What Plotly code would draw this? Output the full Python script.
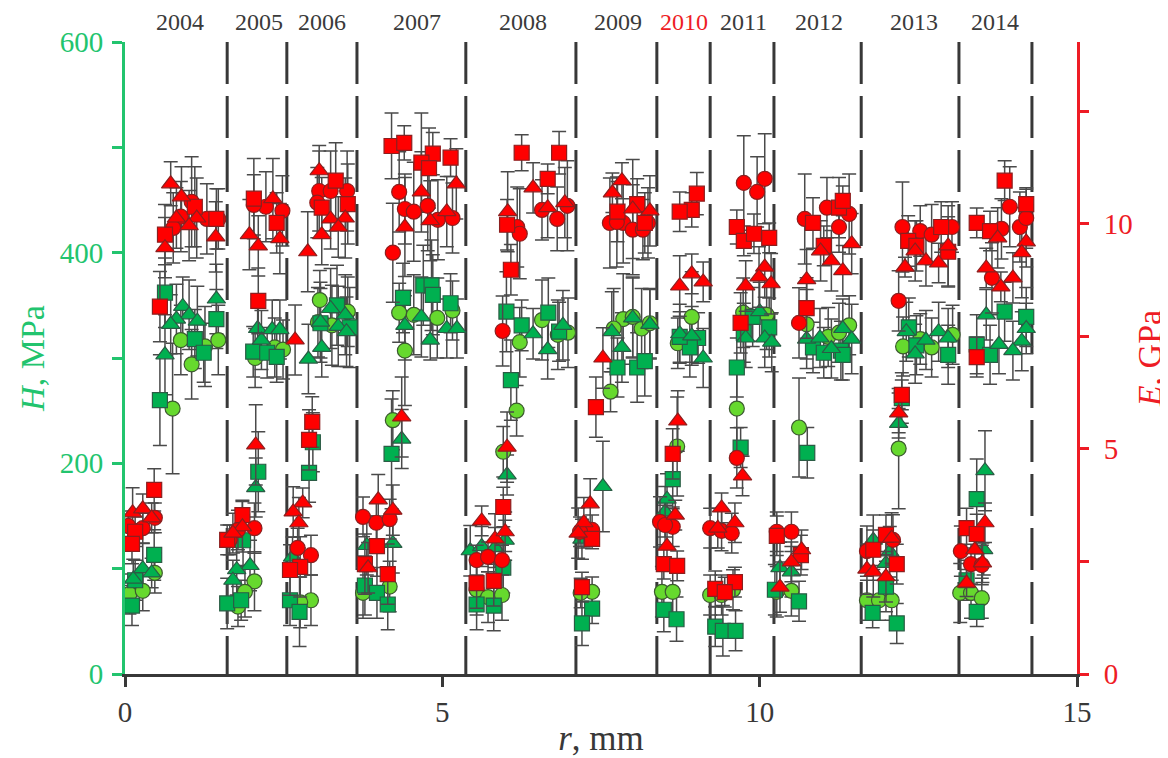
import plotly.graph_objects as go

years = ["2004","2005","2006","2007","2008","2009","2010","2011","2012","2013","2014"]
year_r = [0.87,2.11,3.10,4.60,6.27,7.77,8.81,9.75,10.93,12.43,13.71]
boundaries = [1.61,2.55,3.655,5.37,7.105,8.38,9.22,10.225,11.6,13.14,14.29]

E_sq_r = [1.10,1.44,.63,.55,.46,.16,.11, 2.03,2.39,2.10,1.85,1.61, 3.32,3.51,3.10,2.95,2.90,2.76,2.60,
          4.20,4.40,4.85,5.13,4.67,4.79,3.97,3.78,4.14, 6.25,6.84,6.66,6.02,6.08,5.96,5.54,5.81,
          8.07,7.76,8.19,7.42,7.36,7.20, 9.01,8.93,8.74,8.63,8.49,8.70, 9.64,9.75,9.91,10.15,9.70,9.61,9.30,9.45,
          10.84,11.25,11.31,11.01,10.74,10.27,10.65, 12.86,12.34,12.47,12.97,12.24,11.99,11.79,12.16,
          13.86,14.20,13.42,13.63,13.42,13.26,13.42]
E_sq = [10.38,10.11,9.76,8.16,4.09,3.16,2.89, 10.56,10.02,8.29,3.53,2.98, 10.96,10.44,10.36,5.60,5.20,2.38,2.31,
        11.73,11.80,11.56,11.47,11.36,11.24,2.84,2.44,2.22, 11.58,11.58,11.0,9.98,8.98,3.71,2.02,2.07,
        10.44,10.27,10.02,5.93,3.0,1.93, 10.67,10.31,10.27,4.89,2.44,2.40, 9.93,9.62,9.78,9.69,7.80,2.04,1.89,1.82,
        10.02,10.36,10.51,9.51,8.13,3.07,2.64, 9.93,9.62,9.51,9.38,6.2,3.09,2.76,2.44,
        10.96,10.44,10.02,9.84,7.04,3.24,3.11]
E_sq_err = [.89,.67,.67,.78,.47,.33,.44, .89,.67,.73,.33,.33, .84,.89,.67,.56,.67,.67,.56,
            .73,.38,.47,.42,1.1,.89,.67,.67,.67, .4,.47,.33,.56,.56,.44,.56,.56,
            .56,.67,.67,.67,.22,.33, .47,.38,.44,.56,.33,.33, .38,.33,.44,.33,.67,.33,.4,.33,
            .56,.67,.33,.44,.67,.44,.44, .56,.56,.56,.78,.33,.44,.44,.44,
            .44,.33,.33,.44,.44,.44,.44]

E_ci_r = [1.05,.88,.76,1.29,1.47,.05,.47,.28, 2.48,2.22,2.03,2.04,1.78,1.65, 3.06,3.24,3.50,3.03,2.72,2.93,
          4.32,4.41,4.55,4.77,4.93,5.16,4.22,3.75,3.96,4.17, 6.57,6.97,6.81,6.18,6.22,5.95,5.54,5.72,5.94,
          7.64,7.85,8.0,8.24,8.16,7.75,7.36,7.17, 8.43,8.63,8.51, 9.75,10.08,9.96,9.64,9.22,9.40,9.56,
          11.06,11.41,11.25,10.71,10.62,10.27,10.5, 12.25,12.53,12.71,13.03,12.19,12.10,11.69,
          13.94,13.81,14.10,14.2,13.66,13.17,13.33,13.5]
E_ci = [10.49,10.16,9.91,10.11,10.11,3.29,3.47,3.24, 10.29,10.38,10.42,3.24,3.2,2.98, 10.73,10.73,10.73,10.47,2.8,2.64,
        10.71,10.33,10.27,10.4,10.09,10.13,9.36,3.49,3.36,3.44, 10.31,10.4,10.11,9.93,9.78,7.62,2.53,2.6,2.53,
        10.02,10.02,9.87,10.02,9.87,10.04,3.2,3.16, 3.38,3.27,3.31, 10.91,11.0,10.71,4.8,3.24,3.18,3.13,
        10.36,10.22,9.93,10.11,7.8,3.16,3.16, 9.93,9.84,9.76,9.93,8.29,2.98,2.73,
        10.38,9.89,9.93,10.13,8.8,2.73,2.44,2.42]
E_ci_err = [1.0,.78,.78,.78,.67,.33,.33,.33, .78,.78,.67,.56,.44,.33, .89,.89,.89,.78,.44,.44,
            .89,.78,1.1,1.0,.89,.78,1.1,.44,.44,.44, .67,1.0,.71,.89,1.0,.78,.33,.33,.33,
            1.0,.89,1.0,.78,.67,1.0,.33,.33, .56,.44,.44, 1.05,1.0,.78,.67,.44,.44,.44,
            .67,.89,.56,1.0,.78,.44,.44, 1.0,.56,.67,.56,.67,.56,.56,
            .89,.67,.78,.67,.78,.56,.44,.44]

E_tr_r = [.72,.89,.81,1.13,1.01,1.43,.63,.12,.28,.42, 2.33,1.96,2.10,2.44,2.06,1.85,1.70,
          3.06,3.24,3.47,3.36,3.10,2.88,2.68,2.80,2.65,2.74, 5.22,4.67,5.07,4.81,4.41,4.36,3.99,4.22,3.83,
          6.43,6.03,6.66,6.93,6.02,5.62,5.83,5.99, 7.83,7.68,8.0,8.27,7.53,7.33,7.23,7.14,
          8.93,8.74,9.11,8.71,8.67,8.54, 10.08,9.99,9.78,10.18,9.73,9.40,9.61,9.34,
          10.96,11.13,11.45,11.31,10.74,10.66,10.5,10.32, 12.45,12.97,12.62,12.82,12.29,12.19,12.08,11.69,11.79,11.99,
          13.75,14.2,14.13,13.57,13.99,13.8,13.55,13.39,13.51,13.26]
E_tr = [10.89,10.6,10.13,10.13,9.96,9.71,9.47,3.58,3.67,3.47, 10.56,9.76,9.51,9.67,5.09,3.27,3.13,
        11.18,10.11,10.13,9.93,9.76,9.38,7.42,3.8,3.6,3.36, 10.89,10.71,10.27,10.07,9.93,5.71,3.87,3.64,2.36,
        10.8,10.27,10.36,10.47,5.04,3.4,3.0,3.16, 10.96,10.69,10.33,10.29,7.02,3.78,3.36,3.13,
        8.89,8.62,8.71,5.62,3.53,2.84, 9.04,8.82,8.62,8.67,4.4,3.69,3.36,3.24,
        9.4,9.18,9.56,8.96,8.76,2.76,2.49,1.93, 9.4,9.51,9.18,9.13,9.04,5.8,3.02,2.33,2.27,2.16,
        9.69,9.6,9.36,9.02,8.8,8.6,3.36,2.76,2.47,2.02]
E_tr_err = [.49,.67,.67,.89,.78,.78,.67,.56,.33,.33, .89,.78,.67,.78,.89,.56,.44,
            .56,.67,.89,.67,.67,.89,.78,.33,.56,.56, .78,.89,.78,.89,1.1,.89,.56,.56,.56,
            .56,.89,.67,.78,.78,.33,.56,.44, .4,.44,1.1,.78,.67,.56,.56,.56,
            .44,.67,.44,.67,.33,.33, .67,.67,.56,.67,.44,.33,.44,.44,
            .67,.67,.67,.56,.67,.44,.44,.56, .67,.89,.56,.44,.22,.44,.56,.56,.56,.56,
            .67,.56,1.0,.44,.56,.33,.44,.44,.44,.3]

H_sq_r = [.63,1.44,1.10,1.24,.55,.46,.11,.16, 2.02,2.24,2.39,2.10,1.86,1.61,1.83, 3.34,3.08,3.54,2.96,2.90,2.60,2.75,
          4.38,4.70,4.83,4.85,5.13,4.20,3.78,3.97,4.14, 6.01,6.25,6.67,6.84,6.08,5.96,5.54,5.81, 7.76,8.07,8.19,7.36,7.20,
          9.03,8.90,8.74,8.63,8.49,8.69, 9.89,10.15,9.75,9.64,9.70,9.30,9.42,9.62, 10.84,11.01,11.28,11.31,10.75,10.24,10.62,
          12.35,12.97,12.47,12.24,11.99,11.78,12.16, 13.86,14.2,13.42,13.63,13.42,13.26,13.42]
H_sq = [362,337,318,305,260,113,65,89, 306,305,301,192,127,67,70, 350,333,329,220,191,70,59,
        357,369,369,360,352,209,84,77,66, 344,331,343,325,279,101,66,65, 291,291,297,62,48,
        319,310,320,185,61,52, 339,329,324,291,215,45,41,41, 310,305,307,303,210,80,69,
        329,303,312,262,83,58,48, 344,339,313,303,166,89,59]
H_sq_err = [33,28,28,28,43,24,19,19, 24,24,24,38,24,24,19, 38,33,38,28,28,24,33,
            33,38,43,38,28,52,28,24,24, 38,24,33,28,38,24,24,24, 28,33,33,14,21,
            24,28,24,28,21,21, 28,28,28,28,19,19,24,19, 24,24,28,24,24,24,19,
            28,28,28,24,24,14,19, 28,28,28,28,38,19,14]

H_ci_r = [.88,1.26,1.47,1.05,.75,.07,.28,.47, 2.05,2.36,2.49,2.04,1.89,1.78, 3.07,3.04,3.51,3.26,2.93,2.76,
          4.32,4.55,4.92,5.16,4.41,4.22,3.75,4.17, 6.57,6.22,6.82,6.98,6.17,5.96,5.54,5.72,5.94,
          7.85,7.70,8.14,8.27,8.0,7.65,7.36,7.18, 8.93,8.71,8.70,8.46,8.63, 9.74,10.11,9.64,9.22,9.40,9.58,
          11.08,11.25,11.41,10.74,10.62,10.27,10.5, 12.26,12.53,12.71,13.04,12.19,11.69,11.88,12.08, 13.16,13.33,13.5]
H_ci = [317,311,317,294,252,76,79,96, 300,310,308,88,78,64, 355,334,344,331,70,68,
        343,341,338,345,307,241,77,83, 336,315,322,324,250,211,80,73,75,
        337,328,328,333,339,268,78,77, 339,314,216,78,78, 343,341,252,75,75,80,
        320,324,331,332,234,78,79, 311,318,310,322,214,70,70,70, 77,77,72]
H_ci_err = [33,38,33,33,62,19,19,19, 28,28,28,28,24,19, 28,33,33,38,24,24,
            28,38,38,28,52,28,24,24, 38,33,33,33,24,24,24,24,24,
            43,38,38,33,38,19,14,14, 43,24,47,24,24, 33,33,43,19,19,19,
            28,28,28,33,47,24,24, 28,24,28,28,57,19,19,19, 28,24,19]

H_tr_r = [.91,1.44,1.01,.81,.72,1.14,.63,.13,.28,.42, 2.09,2.32,2.44,2.15,2.06,1.97,1.76,1.70,
          3.24,3.47,3.08,3.36,3.49,3.10,2.89,2.64, 4.67,4.41,5.07,5.23,4.81,4.36,3.81,4.22,
          6.43,6.66,6.90,6.02,5.44,5.62,5.83,5.99, 8.0,7.67,8.27,7.83,7.53,7.2, 8.74,8.93,9.11,8.54,8.51,
          10.0,9.78,10.08,10.19, 10.74,10.95,11.13,11.31,11.45,10.32,10.5,
          12.31,12.82,12.62,12.97,12.45,12.19,11.79,12.05,11.99, 13.57,14.2,14.13,13.77,13.99,13.55,13.53]
H_tr = [349,356,341,337,332,335,303,90,100,96, 328,327,327,317,177,103,99,89,
        347,341,334,330,325,310,299,111, 339,331,328,328,317,223,122,124,
        323,308,331,189,117,121,120,127, 338,325,332,310,178,128, 323,321,300,166,154,
        344,319,319,315, 318,319,309,328,318,101,97,
        325,325,317,319,304,238,127,116,105, 341,328,316,313,307,193,118]
H_tr_err = [28,33,33,33,28,33,38,19,24,14, 28,28,28,28,28,24,24,19,
            38,38,38,38,33,28,33,19, 38,33,28,28,19,28,28,28,
            24,28,33,19,24,19,19,19, 38,38,33,33,43,19, 28,28,28,24,24,
            28,28,28,28, 28,28,28,28,33,24,24,
            28,28,28,28,28,14,24,24,24, 24,24,28,28,28,38,24]

GREEN_AXIS = "#22c46e"
RED_AXIS = "#ee1c25"
DARK = "#383838"
SERIF = "Liberation Serif"

series = [
    (H_ci_r, H_ci, H_ci_err, "circle", 15, "#66d92e", "#3c5a30", "y"),
    (H_sq_r, H_sq, H_sq_err, "square", 15, "#00b050", "#2b5c45", "y"),
    (H_tr_r, H_tr, H_tr_err, "triangle-up", 16, "#00b050", "#2b5c45", "y"),
    (E_ci_r, E_ci, E_ci_err, "circle", 15, "#ff0000", "#8c1f1f", "y2"),
    (E_sq_r, E_sq, E_sq_err, "square", 15, "#ff0000", "#8c1f1f", "y2"),
    (E_tr_r, E_tr, E_tr_err, "triangle-up", 16, "#ff0000", "#8c1f1f", "y2"),
]

fig = go.Figure()
for b in boundaries:
    fig.add_trace(go.Scatter(x=[b, b], y=[600, 0], mode="lines", showlegend=False, hoverinfo="skip",
                             line=dict(color=DARK, width=3, dash="42px,12px")))
for xs, ys, errs, sym, size, col, edge, ax in series:
    fig.add_trace(go.Scatter(x=xs, y=ys, yaxis=ax, mode="markers", showlegend=False, hoverinfo="skip",
                             marker=dict(size=1, opacity=0),
                             error_y=dict(type="data", array=errs, visible=True, color="#4a4a4a",
                                          thickness=1.5, width=7)))
for xs, ys, errs, sym, size, col, edge, ax in series:
    fig.add_trace(go.Scatter(x=xs, y=ys, yaxis=ax, mode="markers", showlegend=False,
                             marker=dict(symbol=sym, size=size, color=col, line=dict(color=edge, width=1.2))))

for yr, r in zip(years, year_r):
    fig.add_annotation(x=r, y=1, xref="x", yref="paper", yanchor="middle", yshift=20, text=yr, showarrow=False,
                       font=dict(family=SERIF, size=24, color="#ee1c25" if yr == "2010" else "#3a3a3a"))

fig.update_layout(
    width=1160, height=750, autosize=False,
    margin=dict(l=117, r=91, t=34, b=84),
    paper_bgcolor="white", plot_bgcolor="white", showlegend=False,
    font=dict(family=SERIF, size=26, color=DARK),
    xaxis=dict(range=[0, 15], tickvals=[0, 5, 10, 15], showgrid=False, zeroline=False, automargin=False,
               showline=True, linecolor=DARK, linewidth=3, ticks="outside", ticklen=10, tickwidth=3,
               tickcolor=DARK, tickfont=dict(family=SERIF, size=29, color=DARK),
               title=dict(text="<i>r</i>, mm", font=dict(family=SERIF, size=35, color=DARK), standoff=8)),
    yaxis=dict(range=[0, 600], tickvals=[0, 100, 200, 300, 400, 500, 600], automargin=False,
               ticktext=["0", "", "200", "", "400", "", "600"], showgrid=False, zeroline=False,
               showline=True, linecolor=GREEN_AXIS, linewidth=3, ticks="outside", ticklen=10, tickwidth=3,
               tickcolor=GREEN_AXIS, tickfont=dict(family=SERIF, size=29, color=GREEN_AXIS), ticklabelstandoff=3,
               title=dict(text="<i>H</i>, MPa", font=dict(family=SERIF, size=34, color=GREEN_AXIS), standoff=5)),
    yaxis2=dict(range=[0, 14.04], overlaying="y", side="right", anchor="x", automargin=False,
                tickvals=[0, 2.5, 5, 7.5, 10, 12.5], ticktext=["0", "", "5", "", "10", ""],
                showgrid=False, zeroline=False, showline=True, linecolor=RED_AXIS, linewidth=3,
                ticks="outside", ticklen=9, tickwidth=3, tickcolor=RED_AXIS,
                tickfont=dict(family=SERIF, size=29, color=RED_AXIS), ticklabelstandoff=9,
                title=dict(text="<i>E</i>, GPa", font=dict(family=SERIF, size=34, color=RED_AXIS), standoff=15)),
)
fig.write_html("out.html")
